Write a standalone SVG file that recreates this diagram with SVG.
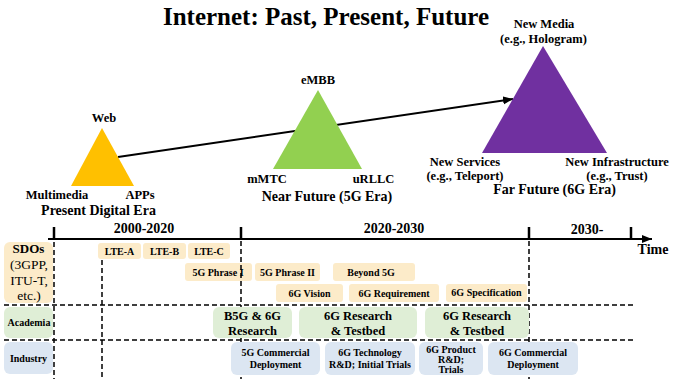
<svg xmlns="http://www.w3.org/2000/svg" width="677" height="379" viewBox="0 0 677 379">
<defs>
<style>
text{font-family:"Liberation Serif","Times New Roman",serif;font-weight:bold;fill:#000;text-anchor:middle}
.t12{font-size:12.5px}
.t14{font-size:14px}
.s10{font-size:10px}
.reg{font-weight:normal}
.sdo{fill:#FCEBC9}
.aca{fill:#DFEED6}
.ind{fill:#DCE6F2}
.dash{stroke:#000;stroke-width:1.5;stroke-dasharray:5 3;fill:none}
.tick{stroke:#000;stroke-width:2.5}
</style>
<marker id="ah" markerUnits="userSpaceOnUse" markerWidth="12" markerHeight="10" refX="10" refY="4" orient="auto">
<path d="M0,0 L10,4 L0,8 Z" fill="#000"/>
</marker>
</defs>

<text x="326" y="25" style="font-size:25px">Internet: Past, Present, Future</text>

<g id="connectors">
<line x1="118" y1="157" x2="513" y2="99" stroke="#000" stroke-width="2" marker-end="url(#ah)"/>
</g>

<g id="present">
<polygon points="102,128 71,186 134,186" fill="#FFC000"/>
<text class="t12" x="104" y="122">Web</text>
<text class="t12" x="57" y="199">Multimedia</text>
<text class="t12" x="140" y="199">APPs</text>
<text class="t14" x="98.5" y="215">Present Digital Era</text>
</g>

<g id="near">
<polygon points="318,90 273,169 362,169" fill="#92D050"/>
<text class="t12" x="318" y="84">eMBB</text>
<text class="t12" x="267" y="183">mMTC</text>
<text class="t12" x="373.5" y="183">uRLLC</text>
<text class="t14" x="327" y="201">Near Future (5G Era)</text>
</g>

<g id="far">
<polygon points="543,46 482,153 607,153" fill="#7030A0"/>
<text class="t12" x="544" y="28">New Media</text>
<text class="t12" x="543.5" y="43">(e.g., Hologram)</text>
<text class="t12" x="465" y="166">New Services</text>
<text class="t12" x="465" y="180">(e.g., Teleport)</text>
<text class="t12" x="617" y="166">New Infrastructure</text>
<text class="t12" x="617" y="180">(e.g., Trust)</text>
<text class="t14" x="554.5" y="194">Far Future (6G Era)</text>
</g>

<g id="timeline">
<line x1="48" y1="239" x2="652" y2="239" stroke="#000" stroke-width="2" marker-end="url(#ah)"/>
<line class="tick" x1="54" y1="227" x2="54" y2="240"/>
<line class="tick" x1="241" y1="227" x2="241" y2="240"/>
<line class="tick" x1="529" y1="227" x2="529" y2="240"/>
<line class="tick" x1="631" y1="227" x2="631" y2="240"/>
<text class="t14" x="144" y="233">2000-2020</text>
<text class="t14" x="394" y="233">2020-2030</text>
<text class="t14" x="587" y="234">2030-</text>
<text class="t14" x="653" y="254">Time</text>
</g>

<g id="sdo-row">
<rect class="sdo" x="4" y="242" width="49" height="61" rx="6"/>
<text x="28.5" y="253" style="font-size:13px">SDOs</text>
<text class="reg" x="29" y="269" style="font-size:13.5px">(3GPP,</text>
<text class="reg" x="29" y="285" style="font-size:13.5px">ITU-T,</text>
<text class="reg" x="29" y="300" style="font-size:13.5px">etc.)</text>
<g id="lte-a"><rect class="sdo" x="98" y="243" width="43" height="16" rx="3"/><text class="s10" x="119.5" y="254.5">LTE-A</text></g>
<g id="lte-b"><rect class="sdo" x="143" y="243" width="43" height="16" rx="3"/><text class="s10" x="164.5" y="254.5">LTE-B</text></g>
<g id="lte-c"><rect class="sdo" x="188" y="243" width="42" height="16" rx="3"/><text class="s10" x="209" y="254.5">LTE-C</text></g>
<g id="p1"><rect class="sdo" x="185" y="263" width="67" height="18" rx="3"/><text class="s10" x="218" y="275.5">5G Phrase I</text></g>
<g id="p2"><rect class="sdo" x="255" y="263" width="65" height="18" rx="3"/><text class="s10" x="287.5" y="275.5">5G Phrase II</text></g>
<g id="b5g"><rect class="sdo" x="333" y="263" width="82" height="18" rx="3"/><text class="s10" x="371" y="275.5">Beyond 5G</text></g>
<g id="v6g"><rect class="sdo" x="276" y="284" width="67" height="18" rx="3"/><text class="s10" x="309.5" y="296.5">6G Vision</text></g>
<g id="r6g"><rect class="sdo" x="349" y="284" width="90" height="18" rx="3"/><text class="s10" x="394" y="296.5">6G Requirement</text></g>
<g id="s6g"><rect class="sdo" x="446" y="284" width="81" height="18" rx="3"/><text class="s10" x="486.5" y="296">6G Specification</text></g>
</g>

<g id="grid">
<line class="dash" x1="4" y1="305" x2="633" y2="305"/>
<line class="dash" x1="4" y1="340" x2="633" y2="340"/>
<line class="dash" x1="54" y1="242" x2="54" y2="379"/>
<line class="dash" x1="102" y1="260" x2="102" y2="379"/>
<line class="dash" x1="241" y1="241" x2="241" y2="379"/>
<line class="dash" x1="529" y1="241" x2="529" y2="379"/>
</g>

<g id="academia-row">
<rect class="aca" x="4" y="307" width="49" height="31" rx="6"/>
<text class="s10" x="29" y="326">Academia</text>
<g id="a1"><rect class="aca" x="213" y="307" width="79" height="31" rx="6"/><text class="t12" x="252.5" y="320">B5G &amp; 6G</text><text class="t12" x="252.5" y="335">Research</text></g>
<g id="a2"><rect class="aca" x="299" y="307" width="118" height="31" rx="6"/><text class="t12" x="358" y="320">6G Research</text><text class="t12" x="358" y="335">&amp; Testbed</text></g>
<g id="a3"><rect class="aca" x="425" y="307" width="104" height="31" rx="6"/><text class="t12" x="477" y="320">6G Research</text><text class="t12" x="477" y="335">&amp; Testbed</text></g>
</g>

<g id="industry-row">
<rect class="ind" x="4" y="342" width="49" height="32" rx="6"/>
<text class="s10" x="28.5" y="362">Industry</text>
<g id="i1"><rect class="ind" x="231" y="342" width="89" height="33" rx="6"/><text class="s10" x="275.5" y="356">5G Commercial</text><text class="s10" x="275.5" y="367.5">Deployment</text></g>
<g id="i2"><rect class="ind" x="325" y="342" width="90" height="33" rx="6"/><text class="s10" x="370" y="356">6G Technology</text><text class="s10" x="370" y="367.5">R&amp;D; Initial Trials</text></g>
<g id="i3"><rect class="ind" x="419" y="342" width="64" height="33" rx="6"/><text class="s10" x="451" y="352.5">6G Product</text><text class="s10" x="451" y="362.5">R&amp;D;</text><text class="s10" x="451" y="372.5">Trials</text></g>
<g id="i4"><rect class="ind" x="488" y="342" width="90" height="33" rx="6"/><text class="s10" x="533" y="356">6G Commercial</text><text class="s10" x="533" y="367.5">Deployment</text></g>
</g>
</svg>
